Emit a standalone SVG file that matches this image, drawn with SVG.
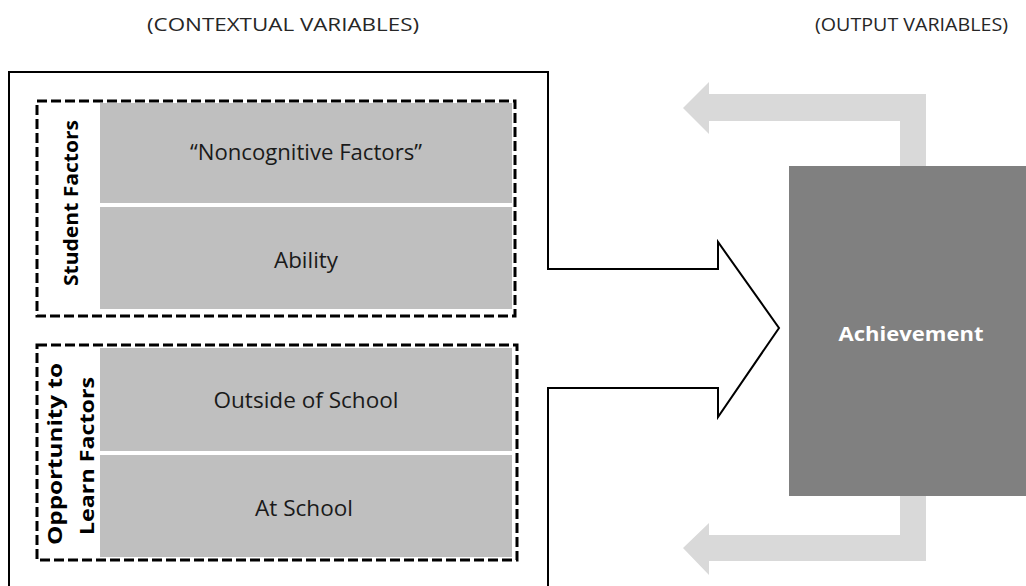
<svg xmlns="http://www.w3.org/2000/svg" width="1026" height="586" viewBox="0 0 1026 586">
<style>
.hdr{font-family:"Open Sans","Liberation Sans",sans-serif;font-size:19px;fill:#262626}
.cell{fill:#BFBFBF}
.ct{font-family:"Open Sans","Liberation Sans",sans-serif;font-size:21px;fill:#1a1a1a;text-anchor:middle;dominant-baseline:central}
.lbl{font-family:"Open Sans","Liberation Sans",sans-serif;font-size:20px;font-weight:bold;fill:#000;text-anchor:middle;dominant-baseline:central}
.dash{fill:none;stroke:#000;stroke-width:3;stroke-dasharray:10 4}
.fb{fill:#D9D9D9}
</style>
<rect width="1026" height="586" fill="#fff"/>
<text class="hdr" x="147" y="31" textLength="272" lengthAdjust="spacingAndGlyphs">(CONTEXTUAL VARIABLES)</text>
<text class="hdr" x="815" y="31" textLength="193" lengthAdjust="spacingAndGlyphs">(OUTPUT VARIABLES)</text>
<g id="connectors">
<polygon class="fb" points="926,166 926,94 709,94 709,82 683,108 709,134 709,121 900,121 900,166"/>
<polygon class="fb" points="900,496 900,535 709,535 709,523 683,548 709,575 709,561 926,561 926,496"/>
<polyline points="9,600 9,72 548,72 548,269 718,269 718,242 779,328 718,417 718,388 548,388 548,600" fill="none" stroke="#000" stroke-width="2" stroke-linejoin="miter"/>
</g>
<g id="student-factors">
<rect class="dash" x="37" y="101" width="478" height="215"/>
<text class="lbl" transform="translate(70,203) rotate(-90)" textLength="166" lengthAdjust="spacingAndGlyphs">Student Factors</text>
</g>
<g id="noncognitive">
<rect class="cell" x="100" y="103" width="412" height="100"/>
<text class="ct" x="306" y="152" textLength="232" lengthAdjust="spacingAndGlyphs">“Noncognitive Factors”</text>
</g>
<g id="ability">
<rect class="cell" x="100" y="207" width="412" height="102"/>
<text class="ct" x="306" y="260" textLength="64" lengthAdjust="spacingAndGlyphs">Ability</text>
</g>
<g id="opportunity-factors">
<rect class="dash" x="37" y="345" width="480" height="215"/>
<text class="lbl" transform="translate(54,454) rotate(-90)" textLength="182" lengthAdjust="spacingAndGlyphs">Opportunity to</text>
<text class="lbl" transform="translate(86,456) rotate(-90)" textLength="158" lengthAdjust="spacingAndGlyphs">Learn Factors</text>
</g>
<g id="outside-school">
<rect class="cell" x="100" y="348" width="412" height="103"/>
<text class="ct" x="306" y="400" textLength="185" lengthAdjust="spacingAndGlyphs">Outside of School</text>
</g>
<g id="at-school">
<rect class="cell" x="100" y="455" width="412" height="102"/>
<text class="ct" x="304" y="508" textLength="98" lengthAdjust="spacingAndGlyphs">At School</text>
</g>
<g id="achievement">
<rect x="789" y="166" width="240" height="330" fill="#808080"/>
<text x="911" y="333" font-family="'Open Sans','Liberation Sans',sans-serif" font-size="20" font-weight="bold" fill="#fff" text-anchor="middle" dominant-baseline="central" textLength="145" lengthAdjust="spacingAndGlyphs">Achievement</text>
</g>
</svg>
